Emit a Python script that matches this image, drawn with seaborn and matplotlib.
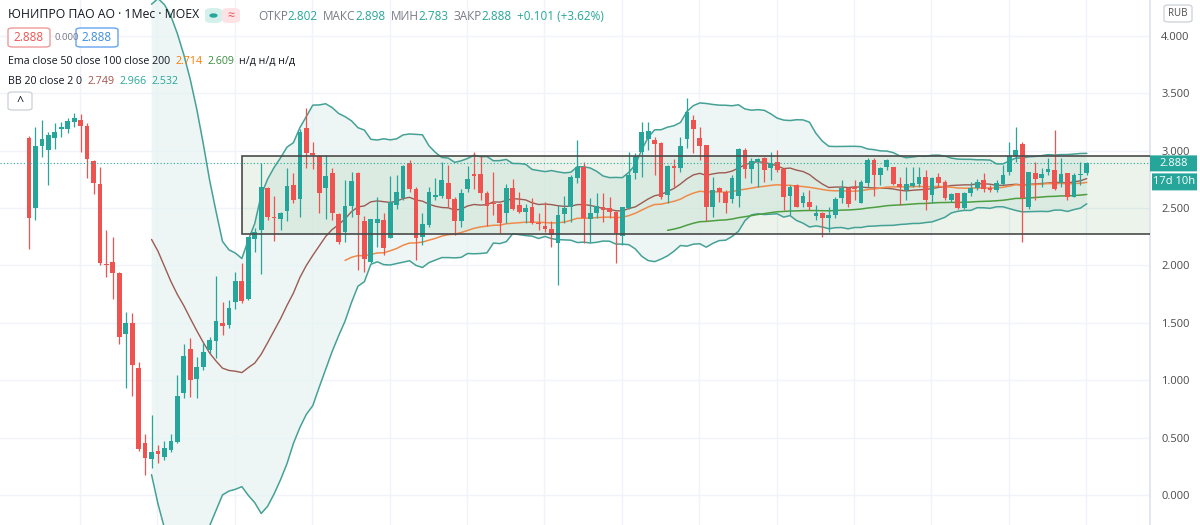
import numpy as np
import pandas as pd
import matplotlib.pyplot as plt
import seaborn as sns
from matplotlib.patches import Rectangle, FancyBboxPatch, Circle

# monthly OHLC
opens = [3.111, 2.503, 3.042, 3.004, 3.106, 3.187, 3.187, 3.245, 3.265, 3.213,
         2.910, 2.708, 2.010, 2.027, 1.932, 1.404, 1.497, 1.111, 0.453, 0.317,
         0.387, 0.332, 0.395, 0.468, 0.888, 1.271, 1.010, 1.114, 1.265, 1.346,
         1.503, 1.483, 1.680, 1.865, 1.706, 2.227, 2.309, 2.677, 2.424, 2.407,
         2.477, 2.700, 2.575, 3.193, 2.981, 2.955, 2.677, 2.807, 2.448, 2.294,
         2.517, 2.807, 2.387, 2.033, 2.367, 2.395, 2.242, 2.526, 2.584, 2.894,
         2.665, 2.250, 2.352, 2.593, 2.604, 2.714, 2.575, 2.387, 2.665, 2.796,
         2.793, 2.627, 2.546, 2.535, 2.454, 2.671, 2.526, 2.462, 2.506, 2.372,
         2.343, 2.317, 2.198, 2.448, 2.511, 2.764, 2.859, 2.401, 2.459, 2.511,
         2.503, 2.462, 2.256, 2.497, 2.807, 2.990, 3.097, 3.091, 3.062, 2.613,
         2.865, 2.845, 3.097, 3.265, 3.111, 3.048, 2.512, 2.671, 2.636, 2.575,
         2.604, 3.004, 2.836, 2.897, 2.932, 2.845, 2.903, 2.839, 2.604, 2.700,
         2.546, 2.549, 2.430, 2.454, 2.410, 2.439, 2.584, 2.677, 2.677, 2.546,
         2.720, 2.917, 2.787, 2.854, 2.854, 2.706, 2.656, 2.691, 2.709, 2.767,
         2.613, 2.772, 2.729, 2.569, 2.627, 2.497, 2.627, 2.671, 2.743, 2.671,
         2.656, 2.709, 2.816, 2.955, 3.053, 2.506, 2.807, 2.758, 2.816, 2.830,
         2.714, 2.801, 2.598, 2.787, 2.802]
highs = [3.130, 3.207, 3.265, 3.164, 3.236, 3.250, 3.280, 3.329, 3.317, 3.242,
         2.917, 2.859, 2.308, 2.250, 1.940, 1.593, 1.584, 1.164, 0.535, 0.700,
         0.439, 0.477, 0.532, 1.048, 1.314, 1.367, 1.207, 1.323, 1.381, 1.911,
         1.683, 1.700, 1.946, 2.019, 2.250, 2.323, 2.888, 2.685, 2.604, 2.468,
         2.845, 2.807, 3.187, 3.367, 3.071, 2.961, 2.961, 2.850, 2.453, 2.743,
         2.816, 2.816, 2.430, 2.401, 2.598, 2.453, 2.778, 2.787, 2.874, 2.917,
         2.685, 2.453, 2.680, 2.758, 2.903, 2.874, 2.598, 2.662, 2.865, 2.990,
         2.952, 2.648, 2.816, 2.540, 2.706, 2.749, 2.642, 2.532, 2.584, 2.459,
         2.555, 2.387, 2.526, 2.604, 2.787, 3.091, 2.903, 2.584, 2.633, 2.627,
         2.598, 2.477, 2.511, 2.990, 2.975, 3.251, 3.251, 3.120, 3.077, 2.874,
         2.923, 3.120, 3.454, 3.309, 3.201, 3.048, 2.772, 2.685, 2.656, 2.787,
         3.019, 3.019, 2.932, 2.932, 2.946, 2.990, 3.004, 2.845, 2.700, 2.706,
         2.636, 2.656, 2.526, 2.468, 2.512, 2.598, 2.743, 2.685, 2.743, 2.743,
         2.932, 2.932, 2.859, 2.923, 2.859, 2.772, 2.859, 2.853, 2.853, 2.830,
         2.767, 2.801, 2.743, 2.633, 2.633, 2.642, 2.729, 2.749, 2.801, 2.700,
         2.743, 2.874, 3.077, 3.201, 3.077, 2.816, 2.903, 2.845, 2.932, 3.178,
         2.932, 2.801, 2.801, 2.903, 2.898]
lows = [2.143, 2.396, 2.940, 2.700, 3.010, 3.120, 3.149, 3.207, 2.990, 2.758,
        2.619, 2.004, 1.903, 1.706, 1.314, 0.932, 0.865, 0.390, 0.178, 0.236,
        0.280, 0.309, 0.380, 0.460, 0.845, 0.859, 0.845, 1.091, 1.236, 1.193,
        1.396, 1.453, 1.619, 1.671, 1.700, 2.120, 1.923, 2.396, 2.213, 2.308,
        2.387, 2.546, 2.424, 2.845, 2.836, 2.459, 2.401, 2.396, 2.187, 2.207,
        2.425, 1.961, 1.946, 2.019, 2.164, 2.091, 2.236, 2.488, 2.569, 2.642,
        2.048, 2.178, 2.338, 2.570, 2.590, 2.511, 2.265, 2.338, 2.642, 2.662,
        2.570, 2.343, 2.439, 2.280, 2.367, 2.483, 2.454, 2.367, 2.358, 2.309,
        2.294, 2.164, 1.830, 2.367, 2.381, 2.714, 2.198, 2.207, 2.410, 2.381,
        2.410, 2.025, 2.178, 2.491, 2.749, 2.772, 3.004, 2.787, 2.575, 2.541,
        2.685, 2.816, 3.019, 2.975, 2.917, 2.387, 2.425, 2.555, 2.454, 2.541,
        2.511, 2.758, 2.714, 2.685, 2.729, 2.743, 2.816, 2.483, 2.439, 2.506,
        2.511, 2.483, 2.396, 2.250, 2.294, 2.410, 2.540, 2.511, 2.569, 2.540,
        2.685, 2.604, 2.700, 2.830, 2.700, 2.526, 2.569, 2.685, 2.685, 2.483,
        2.540, 2.685, 2.569, 2.555, 2.488, 2.491, 2.604, 2.656, 2.642, 2.642,
        2.642, 2.700, 2.787, 2.903, 2.207, 2.488, 2.569, 2.685, 2.787, 2.656,
        2.685, 2.569, 2.593, 2.700, 2.783]
closes = [2.410, 3.039, 3.100, 3.135, 3.161, 3.207, 3.256, 3.280, 3.213, 2.923,
          2.714, 2.024, 2.000, 1.932, 1.381, 1.503, 1.135, 0.404, 0.329, 0.381,
          0.360, 0.416, 0.474, 0.868, 1.213, 1.004, 1.120, 1.250, 1.352, 1.520,
          1.474, 1.627, 1.868, 1.691, 2.245, 2.288, 2.680, 2.419, 2.410, 2.453,
          2.691, 2.569, 3.164, 2.975, 2.961, 2.633, 2.781, 2.453, 2.207, 2.517,
          2.738, 2.439, 2.053, 2.401, 2.401, 2.149, 2.555, 2.636, 2.868, 2.662,
          2.242, 2.358, 2.636, 2.613, 2.743, 2.575, 2.387, 2.627, 2.749, 2.781,
          2.627, 2.517, 2.532, 2.367, 2.671, 2.488, 2.468, 2.497, 2.367, 2.361,
          2.320, 2.265, 2.439, 2.503, 2.767, 2.854, 2.410, 2.459, 2.517, 2.483,
          2.468, 2.285, 2.506, 2.787, 2.952, 3.164, 3.172, 3.056, 2.598, 2.865,
          2.850, 3.039, 3.338, 3.187, 3.039, 2.506, 2.656, 2.642, 2.540, 2.764,
          3.010, 2.836, 2.909, 2.926, 2.830, 2.894, 2.830, 2.598, 2.685, 2.511,
          2.604, 2.511, 2.459, 2.416, 2.439, 2.575, 2.677, 2.532, 2.668, 2.729,
          2.917, 2.787, 2.850, 2.917, 2.709, 2.680, 2.706, 2.714, 2.767, 2.569,
          2.758, 2.714, 2.584, 2.619, 2.497, 2.633, 2.671, 2.729, 2.662, 2.656,
          2.720, 2.787, 2.952, 3.004, 2.584, 2.810, 2.749, 2.796, 2.839, 2.662,
          2.796, 2.598, 2.787, 2.796, 2.888]

ema_lengths = [50, 100]
bb_length = 20
bb_mult = 2
zone_start, zone_low, zone_high = 33, 2.27, 2.955   # drawn rectangle
price_ticks = np.arange(0, 4.01, 0.5)

UP, DOWN = '#26a69a', '#ef5350'

sns.set_theme(style="white")
plt.rcParams['font.family'] = ['Open Sans', 'DejaVu Sans']

df = pd.DataFrame({'bar': np.arange(len(closes)), 'open': opens, 'high': highs,
                   'low': lows, 'close': closes})


def tv_ema(src, n):
    out = np.full(len(src), np.nan)
    a = 2 / (n + 1)
    out[n - 1] = src[:n].mean()
    for i in range(n, len(src)):
        out[i] = a * src[i] + (1 - a) * out[i - 1]
    return out


c = df['close'].to_numpy()
df['ema50'] = tv_ema(c, ema_lengths[0])
df['ema100'] = tv_ema(c, ema_lengths[1])
df['basis'] = df['close'].rolling(bb_length).mean()
dev = df['close'].rolling(bb_length).std(ddof=0)
df['upper'] = df['basis'] + bb_mult * dev
df['lower'] = df['basis'] - bb_mult * dev

W, H = 1200, 525
fig = plt.figure(figsize=(W / 100, H / 100), dpi=100)
ax = fig.add_axes([0, 0, 1150 / W, 1])

x_left = -29 / 6.45
x_right = (1150 - 29) / 6.45
ax.set_xlim(x_left, x_right)
ax.set_ylim(-0.257, 4.309)

# grid
ax.set_xticks(np.arange(8, 170, 12) - 0.1)
ax.set_yticks(price_ticks)
ax.grid(True, color='#f0f3fa', lw=1, zorder=0)
ax.tick_params(axis='x', length=0, labelbottom=False)
ax.yaxis.tick_right()
ax.tick_params(axis='y', length=0, pad=8, labelsize=8, labelcolor='#4a4a4a')
ax.set_yticklabels([f'{v:.3f}' for v in price_ticks])
for s in ['top', 'bottom', 'left']:
    ax.spines[s].set_visible(False)
ax.spines['right'].set_color('#e0e3eb')

# bollinger band fill
ax.fill_between(df['bar'], df['lower'], df['upper'], color='#e6f3f2', alpha=0.7,
                lw=0, zorder=1)
# drawn zone
ax.add_patch(Rectangle((zone_start, zone_low), x_right - zone_start + 1,
                       zone_high - zone_low, facecolor='#4c9a4c', alpha=0.11,
                       edgecolor='none', zorder=1.2))

sns.lineplot(data=df, x='bar', y='upper', ax=ax, color='#45a196', lw=1.1, zorder=2)
sns.lineplot(data=df, x='bar', y='lower', ax=ax, color='#45a196', lw=1.1, zorder=2)
sns.lineplot(data=df, x='bar', y='basis', ax=ax, color='#9c5b52', lw=1.0, zorder=2)
sns.lineplot(data=df, x='bar', y='ema50', ax=ax, color='#ef8a4a', lw=1.1, zorder=2)
sns.lineplot(data=df, x='bar', y='ema100', ax=ax, color='#4d9e40', lw=1.1, zorder=2)
ax.set_xlabel('')
ax.set_ylabel('')

# candles
colors = np.where(df['close'] >= df['open'], UP, DOWN)
ax.vlines(df['bar'], df['low'], df['high'], colors=colors, lw=0.9, zorder=3)
body = np.maximum((df['close'] - df['open']).abs(), 0.012)
ax.bar(df['bar'], body, bottom=np.minimum(df['open'], df['close']), width=0.74,
       color=colors, lw=0, zorder=3.1)

ax.add_patch(Rectangle((zone_start, zone_low), x_right - zone_start + 1,
                       zone_high - zone_low, facecolor='none',
                       edgecolor='#4a4a4a', lw=1.2, zorder=3.5))

last = closes[-1]
ax.axhline(last, color=UP, lw=0.8, ls=(0, (1, 2)), zorder=3.6)


# ---- overlays in pixel coords ----
def fx(x):
    return x / W


def fy(y):
    return 1 - y / H


def pbox(x0, y0, x1, y1, fc, ec='none', lw=1.0, r=0.0):
    p = FancyBboxPatch((fx(x0), fy(y1)), fx(x1) - fx(x0), fy(y0) - fy(y1),
                       boxstyle=f'round,pad=0,rounding_size={r}',
                       transform=fig.transFigure, facecolor=fc, edgecolor=ec,
                       lw=lw, zorder=5)
    fig.add_artist(p)


renderer = fig.canvas.get_renderer()


def seq(x, y, parts, size, gap=4):
    for s, col in parts:
        if s == '':
            x += gap
            continue
        t = fig.text(fx(x), fy(y), s, color=col, fontsize=size, va='center',
                     ha='left', zorder=6)
        x = t.get_window_extent(renderer).x1
    return x


DARK, GRAY = '#131722', '#787b86'
fig.text(fx(8), fy(15), 'ЮНИПРО ПАО АО · 1Мес · MOEX', fontsize=8.8, color=DARK,
         va='center', zorder=6)
pbox(205, 8, 222, 23, '#d5efeb', r=0.006)
fig.add_artist(Circle((fx(213.5), fy(15.5)), 0.0028, transform=fig.transFigure,
                      color=UP, zorder=6))
pbox(222, 8, 240, 23, '#fde3e6', r=0.006)
fig.text(fx(231), fy(15.5), '≈', fontsize=9, color=DOWN, ha='center', va='center',
         zorder=6)
seq(258, 16, [('ОТКР', GRAY), ('2.802', UP), ('', None), ('МАКС', GRAY), ('2.898', UP),
              ('', None), ('МИН', GRAY), ('2.783', UP), ('', None), ('ЗАКР', GRAY),
              ('2.888', UP), ('', None), ('+0.101 (+3.62%)', UP)], 8.5, gap=5)

pbox(8, 28, 50, 47, 'white', ec='#ef9a9a', lw=1, r=0.004)
fig.text(fx(29), fy(37.5), '2.888', fontsize=8.5, color=DOWN, ha='center',
         va='center', zorder=6)
fig.text(fx(55), fy(37.5), '0.000', fontsize=6.8, color=GRAY, va='center', zorder=6)
pbox(76, 28, 118, 47, 'white', ec='#64a4f0', lw=1, r=0.004)
fig.text(fx(97), fy(37.5), '2.888', fontsize=8.5, color='#3d8be0', ha='center',
         va='center', zorder=6)

seq(8, 61, [('Ema close 50 close 100 close 200', DARK), ('', None), ('2.714', '#f57c00'),
            ('', None), ('2.609', '#388e3c'), ('', None), ('н/д н/д н/д', DARK)], 7.7,
    gap=5)
seq(8, 81, [('BB 20 close 2 0', DARK), ('', None), ('2.749', '#a0524a'), ('', None),
            ('2.966', UP), ('', None), ('2.532', UP)], 7.7, gap=5)
pbox(8, 92, 32, 110, 'white', ec='#d1d4dc', lw=1, r=0.004)
fig.text(fx(20), fy(102), '^', fontsize=9, color=DARK, ha='center', va='center',
         zorder=6)

# right axis labels
pbox(1164, 5, 1192, 22, 'white', ec='#d1d4dc', lw=1, r=0.004)
fig.text(fx(1178), fy(13.5), 'RUB', fontsize=7, color='#4a4a4a', ha='center',
         va='center', zorder=6)
yl = 495.5 - 115 * last
pbox(1150, yl - 8, 1197, yl + 8, UP)
fig.text(fx(1173.5), fy(yl), f'{last:.3f}', fontsize=8, color='white', ha='center',
         va='center', zorder=6)
pbox(1152, yl + 10, 1197, yl + 27, UP)
fig.text(fx(1174.5), fy(yl + 18.5), '17d 10h', fontsize=8, color='white', ha='center',
         va='center', zorder=6)

fig.savefig('out.png', dpi=100)
